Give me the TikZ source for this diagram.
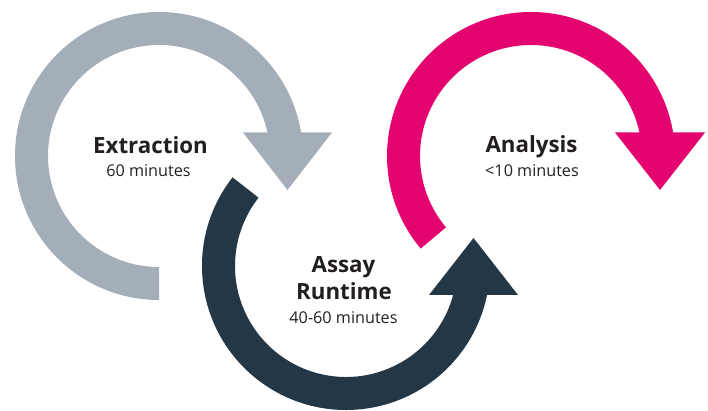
\documentclass[tikz,border=0pt]{standalone}
\usepackage{fontspec}
\setmainfont{Open Sans}
\usetikzlibrary{calc}
\begin{document}
\begin{tikzpicture}[x=1pt,y=1pt,
  title/.style={font=\fontsize{22.3}{24}\selectfont\bfseries, text=txt, anchor=base, inner sep=0pt},
  sub/.style={font=\fontsize{16.2}{18}\selectfont, text=txt, anchor=base, inner sep=0pt}]
\definecolor{greyc}{RGB}{164,174,184}
\definecolor{navyc}{RGB}{35,55,71}
\definecolor{pinkc}{RGB}{228,4,112}
\definecolor{txt}{RGB}{35,31,32}
\useasboundingbox (0,0) rectangle (708,411);
\coordinate (cg) at (159,255);
\coordinate (cn) at (346,145);
\coordinate (cp) at (531,255);
% grey
\fill[greyc] ($(cg)+(270:144)$) arc[start angle=270, end angle=9.19, radius=144]
  -- ($(cg)+(11.96:111)$) arc[start angle=11.96, end angle=270, radius=111] -- cycle;
\fill[greyc] (243,278.5) -- (332,278.5) -- (287.5,221) -- cycle;
% navy
\fill[navyc] ($(cn)+(142:144)$) arc[start angle=142, end angle=348.4, radius=144]
  -- ($(cn)+(344.9:111)$) arc[start angle=344.9, end angle=142, radius=111] -- cycle;
\fill[navyc] (429,116) -- (518,116) -- (473.5,173) -- cycle;
% pink
\fill[pinkc] ($(cp)+(220:144)$) arc[start angle=220, end angle=9.19, radius=144]
  -- ($(cp)+(11.96:111)$) arc[start angle=11.96, end angle=220, radius=111] -- cycle;
\fill[pinkc] (615,278.5) -- (705,278.5) -- (660,221) -- cycle;
% texts
\node[title] (ext) at (150.5,257.7) {Extraction};
\node[sub] (extm) at (148.5,234.3) {60 minutes};
\node[title] (ana) at (531.5,258) {Analysis};
\node[sub] (anam) at (532,234) {<10 minutes};
\node[title] (ass) at (343.5,138.3) {Assay};
\node[title] (run) at (344,111.7) {Runtime};
\node[sub] (assm) at (343.5,87) {40-60 minutes};
\end{tikzpicture}
\end{document}
